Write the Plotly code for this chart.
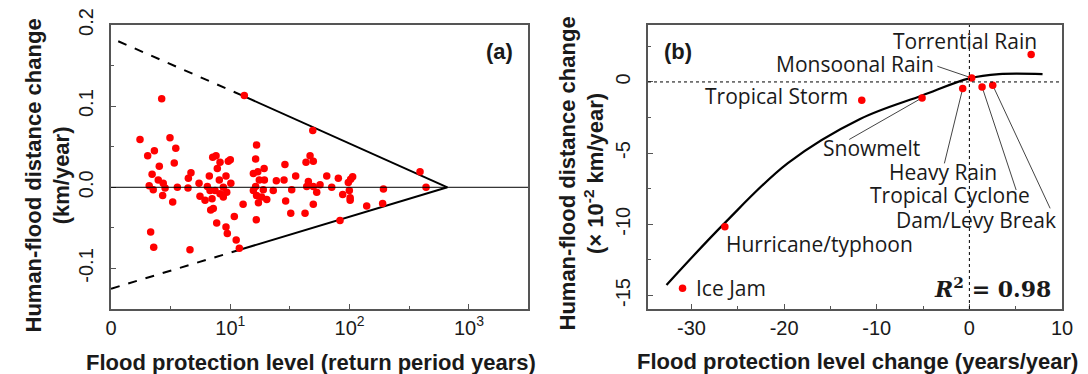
import plotly.graph_objects as go

# ---------------- Panel (a) data ----------------
return_period = [2.66, 1.75, 3.12, 2.31, 2.03, 3.49, 2.54, 3.39, 2.21, 4.68, 4.45, 2.09, 2.49, 2.74, 2.26,
                 2.84, 3.60, 4.42, 5.47, 6.67, 2.71, 3.29, 7.12, 7.59, 8.20, 7.78, 8.09, 9.20, 9.62, 6.42,
                 5.57, 6.14, 6.76, 7.44, 8.20, 8.74, 7.20, 6.85, 7.69, 9.20, 9.44, 2.15, 2.28, 4.59, 7.03,
                 8.74,
                 13.1, 49.1, 16.6, 16.3, 10.0, 28.7, 46.6, 49.6, 43.1, 19.2, 17.0, 15.6, 35.3, 64.3, 10.1,
                 19.3, 17.5, 24.3, 28.2, 45.1, 43.7, 49.6, 56.5, 16.3, 15.6, 18.9, 22.9, 32.7, 53.0, 70.8,
                 9.33, 16.6, 18.3, 20.2, 17.2, 29.1, 12.8, 49.6, 10.8, 32.1, 42.3, 16.5, 11.2, 11.9,
                 389, 80.4, 106, 102, 97.5, 99.4, 192, 437, 87.5, 101, 101, 139, 189, 83.1]
distance_change = [0.109, 0.059, 0.061, 0.045, 0.039, 0.048, 0.026, 0.030, 0.016, 0.018, 0.011, 0.002, 0.009,
                   0.005, -0.003, -0.001, 0.000, -0.001, 0.005, 0.014, -0.010, -0.018, 0.037, 0.039, 0.031,
                   0.023, 0.009, 0.014, 0.032, 0.001, -0.011, -0.016, -0.004, -0.004, -0.008, -0.012, -0.026,
                   -0.028, -0.044, -0.049, -0.057, -0.055, -0.074, -0.077, -0.014, 0.000,
                   0.113, 0.070, 0.052, 0.035, 0.034, 0.028, 0.039, 0.032, 0.031, 0.023, 0.019, 0.017, 0.014,
                   0.014, 0.005, 0.009, 0.009, 0.008, 0.009, 0.007, 0.001, 0.001, 0.003, 0.001, -0.004,
                   -0.003, -0.004, -0.003, -0.006, 0.000, -0.006, -0.010, -0.012, -0.015, -0.019, -0.017,
                   -0.021, -0.021, -0.036, -0.032, -0.032, -0.040, -0.065, -0.075,
                   0.019, 0.011, 0.013, 0.010, 0.006, -0.004, -0.002, 0.000, -0.009, -0.013, -0.016, -0.023,
                   -0.020, -0.041]

# envelope lines (dashed extrapolation + solid fitted part)
upper_dash_x = [1.15, 13.1]
upper_dash_y = [0.180, 0.112]
upper_solid_x = [13.1, 660]
upper_solid_y = [0.112, 0.0]
lower_dash_x = [1.0, 12.0]
lower_dash_y = [-0.125, -0.077]
lower_solid_x = [12.0, 660]
lower_solid_y = [-0.077, 0.0]

a_xtick_vals = [1, 10, 100, 1000]
a_xtick_text = ["0", "10<sup>1</sup>", "10<sup>2</sup>", "10<sup>3</sup>"]
a_xminor_vals = [3.162, 31.62, 316.2]
a_ytick_vals = [-0.1, 0.0, 0.1, 0.2]
a_ytick_text = ["-0.1", "0.0", "0.1", "0.2"]
a_yminor_vals = [-0.05, 0.05, 0.15]

# ---------------- Panel (b) data ----------------
event_names = ["Ice Jam", "Hurricane/typhoon", "Tropical Storm", "Snowmelt", "Heavy Rain",
               "Monsoonal Rain", "Tropical Cyclone", "Dam/Levy Break", "Torrential Rain"]
event_x = [-30.97, -26.4, -11.62, -5.11, -0.72, 0.25, 1.37, 2.52, 6.67]
event_y = [-14.49, -10.17, -1.28, -1.12, -0.46, 0.28, -0.35, -0.23, 1.92]

curve_x = [-32.7, -26.4, -19.6, -11.8, -5.1, 0.0, 3.2, 7.9]
curve_y = [-14.26, -9.9, -5.7, -2.6, -0.95, 0.25, 0.55, 0.55]

# label placement (data coords of panel b) and leader-line tails
label_x = [-25.7, -16.2, -20.8, -10.6, -2.9, -12.4, -2.05, 0.76, -0.43]
label_y = [-14.45, -11.38, -1.0, -4.67, -6.31, 1.29, -7.95, -9.70, 2.88]
leader_names = ["Monsoonal Rain", "Snowmelt", "Heavy Rain", "Tropical Cyclone", "Dam/Levy Break"]
leader_tail_x = [-3.46, -12.97, -2.70, 5.05, 8.72]
leader_tail_y = [1.10, -4.04, -5.72, -7.59, -8.88]

b_xtick_vals = [-30, -20, -10, 0, 10]
b_xtick_text = ["-30", "-20", "-10", "0", "10"]
b_xminor_vals = [-25, -15, -5, 5]
b_ytick_vals = [-15, -10, -5, 0]
b_ytick_text = ["-15", "-10", "-5", "0"]
b_yminor_vals = [-12.5, -7.5, -2.5, 2.5]

# ---------------- Figure ----------------
# the page body keeps its default 8px margin, so lay out in window pixels and convert
OFF = 8
W, H = 1088 - OFF, 374 - OFF


def px_x(p):
    return (p - OFF) / W


def px_y(p):
    return 1 - (p - OFF) / H


AX = "#555555"
TXT = "#1a1a1a"
TICKFONT = dict(family="Liberation Sans, Arial, sans-serif", size=20, color=TXT)
LBLFONT = dict(family="Open Sans, Noto Sans, sans-serif", size=21, color=TXT)
TITLEFONT = dict(family="Liberation Sans, Arial, sans-serif", size=22, color=TXT)

fig = go.Figure()

# panel (a)
for xs, ys, dash in [(upper_dash_x, upper_dash_y, "dash"), (lower_dash_x, lower_dash_y, "dash"),
                     (upper_solid_x, upper_solid_y, "solid"), (lower_solid_x, lower_solid_y, "solid")]:
    fig.add_trace(go.Scatter(x=xs, y=ys, mode="lines", line=dict(color="black", width=2, dash=dash),
                             xaxis="x", yaxis="y"))
fig.add_trace(go.Scatter(x=return_period, y=distance_change, mode="markers",
                         marker=dict(color="#ff0000", size=7.5, line=dict(width=0)), xaxis="x", yaxis="y"))

# panel (b)
fig.add_trace(go.Scatter(x=curve_x, y=curve_y, mode="lines",
                         line=dict(color="black", width=2.2, shape="spline", smoothing=1.0),
                         xaxis="x2", yaxis="y2"))
for name, tx, ty in zip(leader_names, leader_tail_x, leader_tail_y):
    i = event_names.index(name)
    fig.add_trace(go.Scatter(x=[tx, event_x[i]], y=[ty, event_y[i]], mode="lines",
                             line=dict(color="#444444", width=1), xaxis="x2", yaxis="y2"))
fig.add_trace(go.Scatter(x=event_x, y=event_y, mode="markers",
                         marker=dict(color="#ff0000", size=7.5, line=dict(width=0)), xaxis="x2", yaxis="y2"))

shapes = [
    dict(type="line", xref="x domain", yref="y", x0=0, x1=1, y0=0, y1=0, line=dict(color="black", width=1)),
    dict(type="line", xref="x2", yref="y2 domain", x0=0, x1=0, y0=0, y1=1,
         line=dict(color="black", width=1, dash="dot")),
    dict(type="line", xref="x2 domain", yref="y2", x0=0, x1=1, y0=0, y1=0,
         line=dict(color="black", width=1, dash="dot")),
]

annotations = []
for name, lx, ly in zip(event_names, label_x, label_y):
    annotations.append(dict(x=lx, y=ly, xref="x2", yref="y2", text=name, showarrow=False,
                            font=LBLFONT, xanchor="center", yanchor="middle"))
annotations.append(dict(x=2.49, y=-14.49, xref="x2", yref="y2",
                        text="<b><i>R</i><sup>2</sup> = 0.98</b>", showarrow=False,
                        font=dict(family="DejaVu Serif, Liberation Serif, serif", size=22, color=TXT),
                        xanchor="center", yanchor="middle"))
annotations.append(dict(x=px_x(499), y=px_y(51.7), xref="paper", yref="paper", text="<b>(a)</b>",
                        showarrow=False, font=dict(family="Liberation Sans, Arial", size=22, color=TXT),
                        xanchor="center", yanchor="middle"))
annotations.append(dict(x=px_x(678), y=px_y(51.7), xref="paper", yref="paper", text="<b>(b)</b>",
                        showarrow=False, font=dict(family="Liberation Sans, Arial", size=22, color=TXT),
                        xanchor="center", yanchor="middle"))
annotations.append(dict(x=px_x(47.5), y=px_y(176), xref="paper", yref="paper",
                        text="<b>Human-flood distance change</b><br><b>(km/year)</b>", textangle=-90,
                        showarrow=False, font=TITLEFONT, xanchor="center", yanchor="middle"))
annotations.append(dict(x=px_x(581.5), y=px_y(174), xref="paper", yref="paper",
                        text="<b>Human-flood distance change</b><br><b>(× 10<sup>-2</sup> km/year)</b>",
                        textangle=-90, showarrow=False, font=TITLEFONT, xanchor="center", yanchor="middle"))
annotations.append(dict(x=px_x(311), y=px_y(362), xref="paper", yref="paper",
                        text="<b>Flood protection level (return period years)</b>",
                        showarrow=False, font=TITLEFONT, xanchor="center", yanchor="middle"))
annotations.append(dict(x=px_x(857), y=px_y(361), xref="paper", yref="paper",
                        text="<b>Flood protection level change (years/year)</b>",
                        showarrow=False, font=TITLEFONT, xanchor="center", yanchor="middle"))

common = dict(showline=True, mirror=True, linecolor=AX, linewidth=1.5, ticks="inside", ticklen=5,
              tickcolor=AX, tickwidth=1.2, showgrid=False, zeroline=False, tickfont=TICKFONT,
              automargin=False)

ydom = [px_y(309), px_y(25)]
fig.update_layout(
    template="none",
    width=W, height=H, margin=dict(l=0, r=0, t=0, b=0, pad=0), autosize=False,
    paper_bgcolor="white", plot_bgcolor="white", showlegend=False,
    xaxis=dict(domain=[px_x(111), px_x(528)], type="log", range=[0, 3.495], anchor="y",
               tickmode="array", tickvals=a_xtick_vals, ticktext=a_xtick_text, ticklabelstandoff=0,
               minor=dict(tickmode="array", tickvals=a_xminor_vals, ticks="inside", ticklen=3, tickcolor=AX),
               **common),
    yaxis=dict(domain=ydom, range=[-0.15, 0.2], anchor="x", tickmode="array",
               tickvals=a_ytick_vals, ticktext=a_ytick_text, tickangle=-90, ticklabelstandoff=8,
               minor=dict(tickmode="array", tickvals=a_yminor_vals, ticks="inside", ticklen=3, tickcolor=AX),
               **common),
    xaxis2=dict(domain=[px_x(648), px_x(1062)], range=[-34.7, 10], anchor="y2",
                tickmode="array", tickvals=b_xtick_vals, ticktext=b_xtick_text, ticklabelstandoff=0,
                minor=dict(tickmode="array", tickvals=b_xminor_vals, ticks="inside", ticklen=3, tickcolor=AX),
                **common),
    yaxis2=dict(domain=ydom, range=[-15.95, 4.0], anchor="x2", tickmode="array",
                tickvals=b_ytick_vals, ticktext=b_ytick_text, tickangle=-90, ticklabelstandoff=8,
                minor=dict(tickmode="array", tickvals=b_yminor_vals, ticks="inside", ticklen=3, tickcolor=AX),
                **common),
    shapes=shapes, annotations=annotations,
)

fig.write_html("out.html")
